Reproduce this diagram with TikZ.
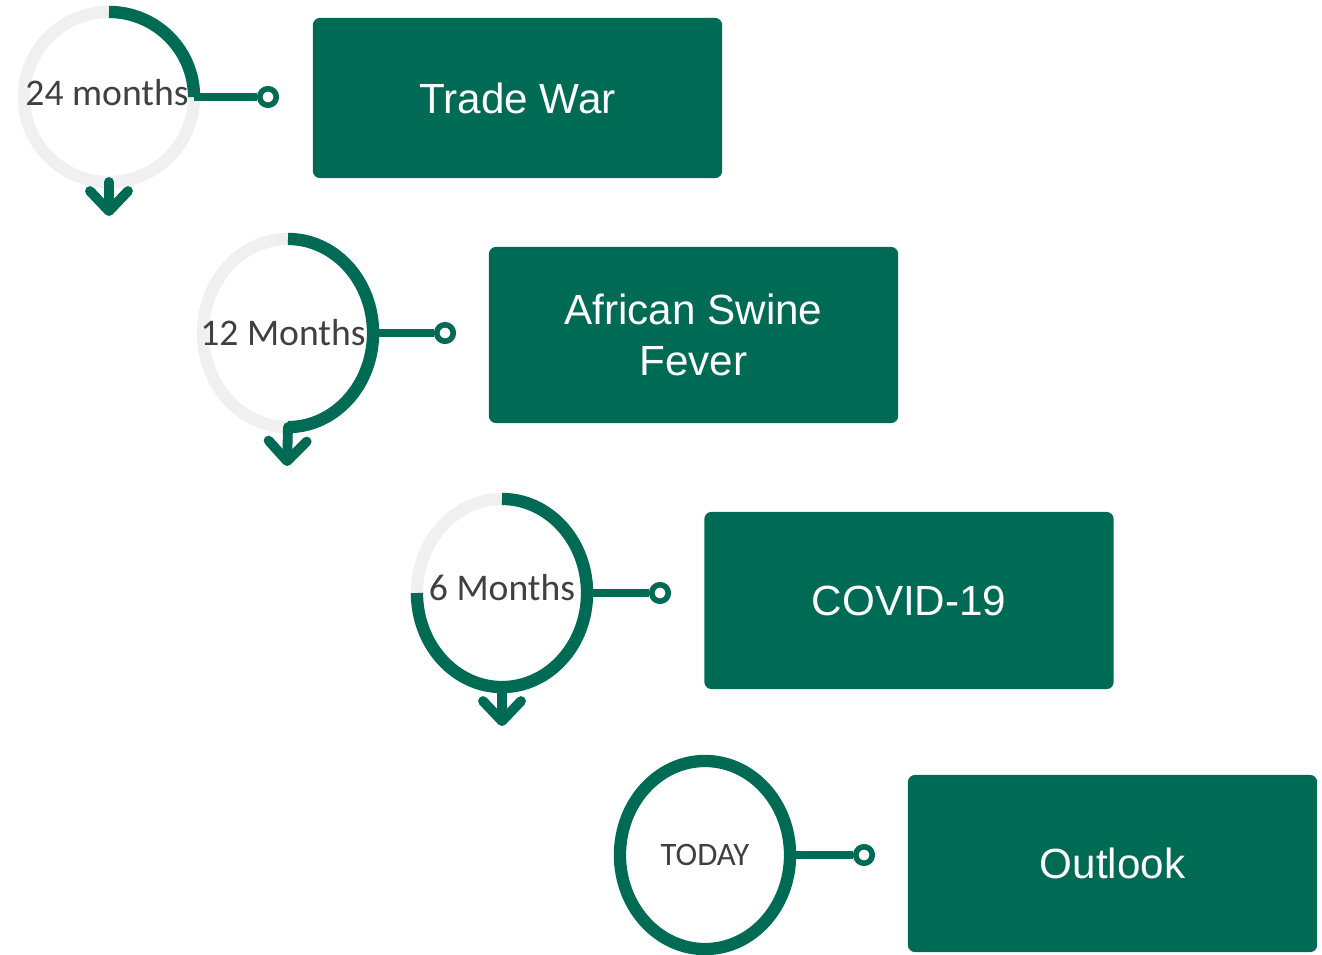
\documentclass[tikz,border=0pt]{standalone}
\usepackage{fontspec}
\setmainfont{Liberation Sans}
\newfontfamily\calibri{Carlito}
\usepackage{tikz}
\usetikzlibrary{shapes.geometric,arrows.meta}
\definecolor{pine}{RGB}{0,107,84}
\definecolor{ringgrey}{RGB}{240,240,240}
\definecolor{labelgrey}{RGB}{64,64,64}
\tikzset{>={Straight Barb[length=2mm,width=3.8mm,round]}}
\tikzset{
  ring/.style={ellipse,draw=ringgrey,line width=3.5pt,inner sep=0pt,outer sep=0pt,
    minimum width=1.7cm,minimum height=1.88cm},
  done/.style={draw=pine,line width=3.5pt},
  months/.style={text=labelgrey,font=\calibri\fontsize{10.7}{12}\selectfont},
  dot/.style={circle,draw=pine,fill=white,line width=1.6pt,inner sep=0pt,minimum size=0.165cm},
  link/.style={draw=pine,line width=2.5pt},
  drop/.style={draw=pine,line width=2.8pt,line cap=round,->},
  event/.style={rectangle,fill=pine,rounded corners=0.07cm,minimum width=4.09cm,
    minimum height=1.77cm,text=white,align=center,font=\fontsize{12}{14.5}\selectfont}
}

\begin{document}
\begin{tikzpicture}[x=0.01cm,y=0.01cm]
\useasboundingbox (0,0) rectangle (1322,-954);

% 24 months
\node[ring,minimum height=1.7cm] (r24) at (109,-97) {};
\draw[done] (r24.north) arc[start angle=90,end angle=0,x radius=0.85cm,y radius=0.85cm];
\node[months] (l24) at ([xshift=-0.02cm,yshift=0.04cm]r24.center) {24 months};
\node[dot] (d24) at (268,-97) {};
\draw[link] (r24.east) -- (d24);
\coordinate (a24) at (109,-216);
\draw[drop] (r24.south) -- (a24);
\node[event,minimum height=1.6cm] (trade) at (517.5,-98) {Trade War};

% 12 months
\node[ring] (r12) at (288,-333) {};
\draw[done] (r12.north) arc[start angle=90,end angle=-90,x radius=0.85cm,y radius=0.94cm];
\node[months] (l12) at ([xshift=-0.05cm]r12.center) {12 Months};
\node[dot] (d12) at (445,-333) {};
\draw[link] (r12.east) -- (d12);
\coordinate (a12) at (287,-466);
\draw[drop] (r12.south) -- (a12);
\node[event,minimum height=1.76cm] (asf) at (693.5,-335) {African Swine\\Fever};

% 6 months
\node[ring] (r6) at (502,-593) {};
\draw[done] (r6.north) arc[start angle=90,end angle=-180,x radius=0.85cm,y radius=0.94cm];
\node[months] (l6) at ([yshift=0.05cm]r6.center) {6 Months};
\node[dot] (d6) at (660,-593) {};
\draw[link] (r6.east) -- (d6);
\coordinate (a6) at (502,-726);
\draw[drop] (r6.south) -- (a6);
\node[event] (covid) at (909,-600.5) {COVID-19};

% today
\node[ring,draw=pine] (rtoday) at (705,-855) {};
\node[months,font=\calibri\fontsize{9.3}{11}\selectfont] (ltoday) at (rtoday.center) {TODAY};
\node[dot] (dtoday) at (864,-855) {};
\draw[link] (rtoday.east) -- (dtoday);
\node[event] (outlook) at (1112.5,-863.5) {Outlook};

\end{tikzpicture}
\end{document}
